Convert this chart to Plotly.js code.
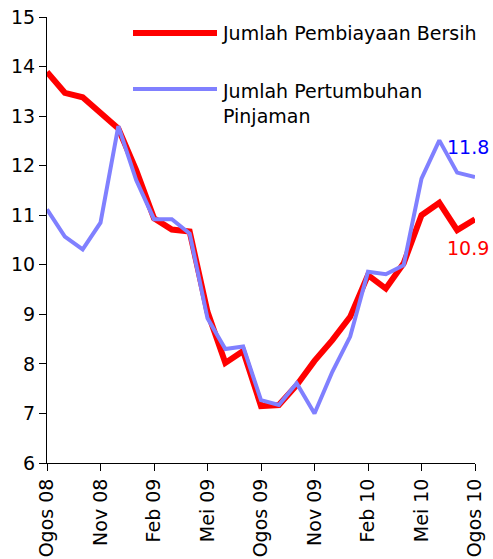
<!DOCTYPE html>
<html>
<head>
<meta charset="utf-8">
<script src="https://cdn.plot.ly/plotly-3.0.1.min.js"></script>
<style>
html,body{margin:0;padding:0;background:#fff;}
#chart{width:493px;height:559px;}
</style>
</head>
<body>
<div id="chart"></div>
<script>
// Months from Ogos 08 (index 0) to Ogos 10 (index 24)
var months = ["Ogos 08","Sep 08","Okt 08","Nov 08","Dis 08","Jan 09","Feb 09","Mac 09","Apr 09","Mei 09","Jun 09","Jul 09","Ogos 09","Sep 09","Okt 09","Nov 09","Dis 09","Jan 10","Feb 10","Mac 10","Apr 10","Mei 10","Jun 10","Jul 10","Ogos 10"];
var pembiayaan = [13.89,13.47,13.38,13.08,12.75,11.91,10.94,10.71,10.67,9.05,8.02,8.26,7.15,7.17,7.57,8.06,8.48,8.95,9.79,9.52,10.03,11.0,11.25,10.70,10.92];
var pinjaman = [11.12,10.57,10.31,10.85,12.80,11.71,10.92,10.92,10.63,8.92,8.30,8.35,7.27,7.17,7.61,7.00,7.84,8.55,9.86,9.81,9.99,11.74,12.51,11.86,11.77];
var tickIdx = [0,3,6,9,12,15,18,21,24];
var tickText = ["Ogos 08","Nov 08","Feb 09","Mei 09","Ogos 09","Nov 09","Feb 10","Mei 10","Ogos 10"];
var seriesNames = ["Jumlah Pembiayaan Bersih","Jumlah Pertumbuhan<br>Pinjaman"];
var endLabels = ["10.9","11.8"];

var x = months.map(function(_, i){ return i; });
var FONT = "DejaVu Sans, Arial, sans-serif";

var traces = [
  {x: x, y: pembiayaan, type: "scatter", mode: "lines", name: seriesNames[0],
   line: {color: "#FF0000", width: 6, shape: "linear"}, hoverinfo: "skip"},
  {x: x, y: pinjaman, type: "scatter", mode: "lines", name: seriesNames[1],
   line: {color: "#8080FF", width: 4, shape: "linear"}, hoverinfo: "skip"}
];

var layout = {
  width: 493, height: 559,
  margin: {l: 47, r: 18, t: 17, b: 96, pad: 0},
  paper_bgcolor: "#ffffff", plot_bgcolor: "#ffffff",
  showlegend: false,
  font: {family: FONT, size: 19, color: "#000000"},
  xaxis: {
    range: [0, 24], tickmode: "array", tickvals: tickIdx, ticktext: tickText,
    tickangle: -90, ticks: "outside", ticklen: 7, tickwidth: 1, tickcolor: "#000",
    showline: true, linecolor: "#000", linewidth: 1, showgrid: false, zeroline: false,
    tickfont: {family: FONT, size: 19, color: "#000"}, fixedrange: true
  },
  yaxis: {
    range: [6, 15], tickmode: "linear", tick0: 6, dtick: 1,
    ticks: "outside", ticklen: 7, tickwidth: 1, tickcolor: "#000",
    showline: true, linecolor: "#000", linewidth: 1, showgrid: false, zeroline: false,
    tickfont: {family: FONT, size: 19, color: "#000"}, fixedrange: true
  },
  shapes: [
    {type: "line", xref: "paper", yref: "paper", x0: (133-47)/428, x1: (217-47)/428,
     y0: (463-33)/446, y1: (463-33)/446, line: {color: "#FF0000", width: 6}},
    {type: "line", xref: "paper", yref: "paper", x0: (133-47)/428, x1: (217-47)/428,
     y0: (463-89)/446, y1: (463-89)/446, line: {color: "#8080FF", width: 4}}
  ],
  annotations: [
    {xref: "paper", yref: "paper", x: (220-47)/428, y: (463-33)/446, xanchor: "left", yanchor: "middle",
     text: seriesNames[0], showarrow: false, align: "left", font: {family: FONT, size: 19, color: "#000"}},
    {xref: "paper", yref: "paper", x: (220-47)/428, y: (463-103)/446, xanchor: "left", yanchor: "middle",
     text: seriesNames[1], showarrow: false, align: "left", font: {family: FONT, size: 19, color: "#000"}},
    {xref: "x", yref: "y", x: 24, y: pinjaman[24], xanchor: "right", yanchor: "bottom", yshift: 17, xshift: 16,
     text: endLabels[1], showarrow: false, font: {family: FONT, size: 19, color: "#0000FF"}},
    {xref: "x", yref: "y", x: 24, y: pembiayaan[24], xanchor: "right", yanchor: "top", yshift: -16, xshift: 16,
     text: endLabels[0], showarrow: false, font: {family: FONT, size: 19, color: "#FF0000"}}
  ]
};

Plotly.newPlot("chart", traces, layout, {displayModeBar: false, staticPlot: true});
</script>
</body>
</html>
